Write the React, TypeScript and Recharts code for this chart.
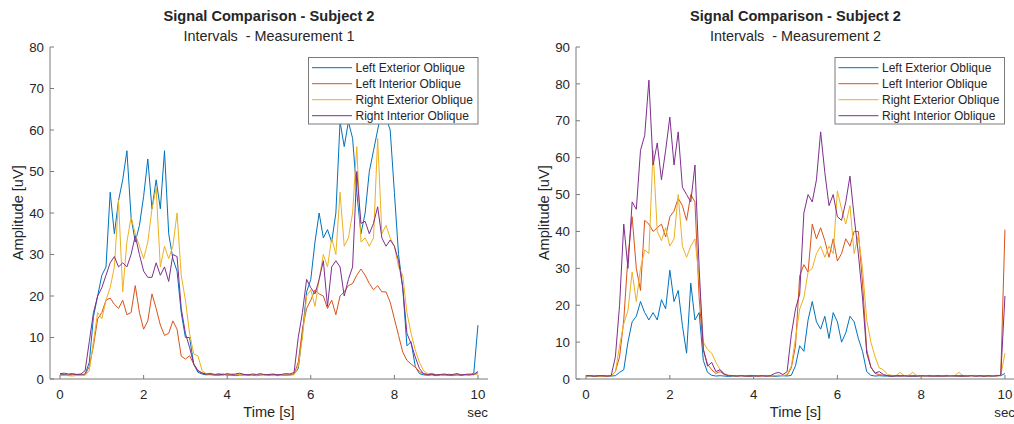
import React from 'react';
import { LineChart, Line, XAxis, YAxis } from 'recharts';

// Sample times [s]
const TIME = [
  0.0, 0.1, 0.2, 0.3, 0.4, 0.5, 0.6, 0.7, 0.8, 0.9,
  1.0, 1.1, 1.2, 1.3, 1.4, 1.5, 1.6, 1.7, 1.8, 1.9,
  2.0, 2.1, 2.2, 2.3, 2.4, 2.5, 2.6, 2.7, 2.8, 2.9,
  3.0, 3.1, 3.2, 3.3, 3.4, 3.5, 3.6, 3.7, 3.8, 3.9,
  4.0, 4.1, 4.2, 4.3, 4.4, 4.5, 4.6, 4.7, 4.8, 4.9,
  5.0, 5.1, 5.2, 5.3, 5.4, 5.5, 5.6, 5.7, 5.8, 5.9,
  6.0, 6.1, 6.2, 6.3, 6.4, 6.5, 6.6, 6.7, 6.8, 6.9,
  7.0, 7.1, 7.2, 7.3, 7.4, 7.5, 7.6, 7.7, 7.8, 7.9,
  8.0, 8.1, 8.2, 8.3, 8.4, 8.5, 8.6, 8.7, 8.8, 8.9,
  9.0, 9.1, 9.2, 9.3, 9.4, 9.5, 9.6, 9.7, 9.8, 9.9,
  10.0,
];

const SERIES_NAMES = ['Left Exterior Oblique', 'Left Interior Oblique', 'Right Exterior Oblique', 'Right Interior Oblique'];
const SERIES_COLORS = ['#0072BD', '#D95319', '#EDB120', '#7E2F8E'];
const X_TICKS = [0, 2, 4, 6, 8, 10];
const Y_TICKS_1 = [0, 10, 20, 30, 40, 50, 60, 70, 80];
const Y_TICKS_2 = [0, 10, 20, 30, 40, 50, 60, 70, 80, 90];

// Measurement 1
const M1_LEO = [
  1.0, 1.1, 0.9, 1.0, 1.1, 1.0, 1.2, 4, 15, 20,
  25, 27, 45, 35, 43, 48, 55, 39, 33, 37,
  44, 53, 41, 48, 41, 55, 35, 29, 26, 16,
  10, 10, 3.5, 1.6, 1.2, 1.0, 1.1, 0.9, 1.0, 1.2,
  0.9, 1.0, 0.8, 1.0, 1.1, 0.9, 1.0, 0.8, 1.0, 1.1,
  0.9, 1.0, 0.8, 1.0, 0.9, 1.0, 1.2, 2.5, 11, 21,
  24, 33, 40, 34, 36, 33, 40, 62, 56, 62,
  58, 45, 35, 40, 50, 55, 60, 65, 63, 60,
  45, 30, 22, 8, 9, 3, 1.3, 1.0, 0.9, 1.0,
  0.8, 1.0, 0.9, 1.0, 0.8, 1.0, 0.9, 1.0, 0.9, 1.4,
  13,
];
const M1_LIO = [
  1.0, 0.9, 1.0, 1.1, 0.9, 1.0, 1.0, 3, 8, 14.5,
  16, 19, 19.5, 18, 17, 19, 15.5, 16, 22.5, 16,
  12, 14, 20.5, 17, 13, 10.5, 11, 14, 12, 5.5,
  4.8, 5.6, 3.6, 2, 1.5, 1.2, 1.0, 1.1, 0.9, 1.0,
  1.1, 0.9, 1.0, 1.0, 0.9, 1.1, 1.0, 0.9, 1.0, 1.1,
  0.9, 1.0, 1.1, 0.9, 1.0, 1.0, 1.2, 4, 12, 17,
  19, 21.5, 20.5, 20, 17, 19, 15.5, 20, 21, 22.5,
  23, 25, 26.5, 25, 23, 21.5, 22.5, 21, 21, 18.5,
  14.5, 10.5, 6.5, 4.5, 3.6, 2.8, 1.8, 1.2, 1.0, 1.1,
  0.9, 1.0, 1.1, 0.9, 1.0, 1.0, 0.9, 1.1, 1.0, 1.1,
  1.5,
];
const M1_REO = [
  0.8, 0.9, 0.8, 0.7, 0.9, 0.8, 0.9, 2, 9, 16,
  14.5, 19, 22, 27, 43, 21, 33, 39, 35, 32,
  29, 33, 41, 46, 27, 32, 29, 32, 40, 25,
  19, 11, 6, 5.6, 2, 1.2, 1.4, 1.0, 1.3, 1.1,
  0.9, 1.2, 1.0, 1.1, 0.9, 1.0, 1.1, 0.9, 1.0, 0.9,
  1.0, 0.8, 1.0, 0.9, 1.0, 0.9, 1.0, 3, 10, 20,
  21.5, 17.5, 24, 30, 27, 34, 30, 45, 32, 34,
  40, 56, 33, 34, 32, 34, 58, 35, 37, 34,
  32, 27, 25, 16, 11, 7, 4, 2, 1.2, 1.4,
  1.0, 1.1, 0.9, 1.2, 1.0, 0.9, 1.1, 1.0, 0.9, 1.0,
  1.2,
];
const M1_RIO = [
  1.3, 1.4, 1.2, 1.3, 1.1, 1.2, 2, 9, 16, 20,
  22, 25, 28, 29.5, 27, 28, 27, 30, 34.5, 30,
  26, 24.5, 24.5, 28, 25, 27, 23.5, 30, 29.5, 17,
  11, 7.6, 3.6, 2, 1.4, 1.2, 1.3, 1.1, 1.2, 1.0,
  1.3, 1.1, 1.2, 1.4, 1.1, 1.0, 1.2, 1.1, 1.3, 1.0,
  1.1, 1.2, 1.0, 1.1, 1.3, 1.2, 1.6, 10, 16, 24,
  22, 20.5, 24, 28.5, 17.5, 27, 28.5, 27, 20, 24,
  27, 50, 37.5, 38, 35, 37.5, 41.5, 34, 32, 33.5,
  32, 28.5, 22, 11, 8.5, 5.3, 2.5, 1.3, 1.1, 1.2,
  1.0, 1.1, 1.2, 1.0, 1.1, 1.3, 1.0, 1.1, 1.2, 1.1,
  1.8,
];

// Measurement 2
const M2_LEO = [
  0.8, 0.8, 0.7, 0.8, 0.9, 0.8, 0.8, 0.9, 1.8, 2.5,
  10, 15.5, 17, 21, 18, 16, 18, 16, 21.5, 19,
  29.5, 21, 24, 14.5, 7, 26, 16, 18, 5, 1.8,
  1.0, 0.8, 0.9, 0.8, 0.7, 0.8, 0.8, 0.9, 0.8, 0.7,
  0.8, 0.8, 0.9, 0.8, 0.8, 0.7, 0.8, 0.9, 0.8, 1.0,
  3.6, 9, 7.5, 16, 21, 15.5, 13.5, 17, 11, 18,
  15.5, 10, 12.5, 17, 15.5, 11, 7.5, 2, 1.0, 0.8,
  0.9, 0.8, 0.8, 0.7, 0.8, 0.9, 0.8, 0.8, 0.7, 0.8,
  0.8, 0.9, 0.8, 0.8, 0.7, 0.8, 0.8, 0.9, 0.8, 0.8,
  0.7, 0.8, 0.9, 0.8, 0.8, 0.7, 0.8, 0.8, 0.9, 0.9,
  1.5,
];
const M2_LIO = [
  0.8, 0.9, 0.8, 0.8, 0.7, 0.8, 0.9, 2, 6, 16,
  33, 44, 30, 24, 43, 42, 40, 41, 42, 38.5,
  44, 45.5, 49, 47, 43, 50, 48, 22, 8, 4,
  2.5, 1.5, 2, 1.2, 1.0, 0.9, 0.8, 0.9, 0.8, 0.8,
  0.9, 0.8, 0.8, 0.9, 0.8, 0.9, 1.0, 0.9, 1.0, 3,
  9, 28, 31, 29, 42, 38, 41, 37.5, 33, 38,
  32, 34, 38, 36, 40, 40, 26, 8, 3.2, 1.5,
  1.2, 1.0, 0.9, 0.8, 0.9, 0.8, 0.9, 0.8, 0.8, 0.9,
  0.8, 0.9, 0.8, 0.8, 0.9, 0.8, 0.8, 0.9, 0.8, 0.9,
  0.8, 0.8, 0.9, 0.8, 0.9, 0.8, 0.8, 0.9, 0.8, 1.0,
  40.5,
];
const M2_REO = [
  0.8, 0.8, 0.9, 0.8, 0.8, 0.9, 0.8, 2, 9, 15,
  18.5, 29, 21, 30, 35, 34, 62, 40, 37.5, 41,
  36, 38, 50, 36, 33, 36, 38, 27, 10, 8,
  7, 4.5, 2.5, 1.5, 1.0, 0.9, 0.8, 0.9, 0.8, 1.0,
  0.9, 0.8, 0.9, 1.0, 0.8, 0.9, 1.0, 0.9, 1.2, 3.5,
  11, 19, 22, 29, 30, 34, 36, 33, 36, 34,
  51, 46, 42, 47, 34, 39, 30, 16, 10, 6,
  3, 2.5, 1.2, 1.0, 0.9, 1.8, 0.9, 1.0, 1.8, 0.9,
  0.8, 0.9, 1.0, 0.8, 0.9, 0.8, 1.0, 0.9, 0.9, 1.8,
  0.9, 0.8, 0.9, 1.0, 0.8, 0.9, 0.8, 0.9, 1.0, 0.9,
  7,
];
const M2_RIO = [
  0.9, 0.9, 0.8, 0.9, 0.9, 0.8, 0.9, 6, 20, 42,
  30, 48, 46, 62, 66, 81, 58, 64, 54, 62,
  71, 58, 67, 52, 50, 48, 58, 30, 8, 3.5,
  4.5, 2, 2.5, 1.3, 0.9, 0.9, 0.8, 0.9, 0.8, 0.9,
  0.9, 0.8, 0.9, 0.8, 0.9, 1.5, 1.8, 1.2, 2, 12,
  19, 23, 45, 50, 48, 54, 67, 56, 47, 50,
  44, 43, 48, 55, 44, 34, 22, 7, 3.2, 1.6,
  2, 1.2, 0.9, 0.8, 0.9, 0.8, 0.9, 0.8, 0.9, 0.8,
  0.9, 0.8, 0.9, 0.8, 0.9, 0.8, 0.9, 0.8, 0.9, 0.8,
  0.9, 0.8, 0.9, 0.8, 0.9, 0.8, 0.9, 0.8, 0.9, 1.0,
  22.5,
];

const KEYS = ['leo', 'lio', 'reo', 'rio'];

function buildRows(time: number[], s: number[][]) {
  return time.map((t, i) => ({ t, leo: s[0][i], lio: s[1][i], reo: s[2][i], rio: s[3][i] }));
}

const DATA_1 = buildRows(TIME, [M1_LEO, M1_LIO, M1_REO, M1_RIO]);
const DATA_2 = buildRows(TIME, [M2_LEO, M2_LIO, M2_REO, M2_RIO]);

const FONT = '"Liberation Sans", Arial, Helvetica, sans-serif';
const TEXT_COLOR = '#262626';
const AXIS_COLOR = '#7a7a7a';
const TICK_LEN = 4;

const BottomTick = (props: any) => {
  const { x, y, payload } = props;
  return (
    <g>
      <line x1={x} x2={x} y1={y} y2={y - TICK_LEN} stroke={AXIS_COLOR} strokeWidth={1} />
      <text x={x} y={y + 20} textAnchor="middle" fill={TEXT_COLOR} fontSize={13.3} fontFamily={FONT}>
        {payload.value}
      </text>
    </g>
  );
};
const TopTick = (props: any) => {
  const { x, y } = props;
  return <line x1={x} x2={x} y1={y} y2={y + TICK_LEN} stroke={AXIS_COLOR} strokeWidth={1} />;
};
const LeftTick = (props: any) => {
  const { x, y, payload } = props;
  return (
    <g>
      <line x1={x} x2={x + TICK_LEN} y1={y} y2={y} stroke={AXIS_COLOR} strokeWidth={1} />
      <text x={x - 6} y={y + 4.7} textAnchor="end" fill={TEXT_COLOR} fontSize={13.3} fontFamily={FONT}>
        {payload.value}
      </text>
    </g>
  );
};
const RightTick = (props: any) => {
  const { x, y } = props;
  return <line x1={x} x2={x - TICK_LEN} y1={y} y2={y} stroke={AXIS_COLOR} strokeWidth={1} />;
};

type PanelProps = {
  data: any[];
  yMax: number;
  yTicks: number[];
  width: number;
  left: number;
  yAxisWidth: number;
  rightMargin: number;
};

function Panel({ data, yMax, yTicks, width, left, yAxisWidth, rightMargin }: PanelProps) {
  return (
    <div style={{ position: 'absolute', left, top: 0 }}>
      <LineChart
        width={width}
        height={424}
        data={data}
        margin={{ top: 47, right: rightMargin, bottom: 0, left: 0 }}
      >
        <XAxis
          xAxisId="b"
          dataKey="t"
          type="number"
          domain={[-0.24, 10.24]}
          ticks={X_TICKS}
          allowDataOverflow
          orientation="bottom"
          height={45}
          tickSize={0}
          tickMargin={0}
          tickLine={false}
          axisLine={{ stroke: AXIS_COLOR }}
          tick={<BottomTick />}
          interval={0}
        />
        <XAxis
          xAxisId="t"
          dataKey="t"
          type="number"
          domain={[-0.24, 10.24]}
          ticks={X_TICKS}
          allowDataOverflow
          orientation="top"
          height={0}
          tickSize={0}
          tickMargin={0}
          tickLine={false}
          axisLine={{ stroke: AXIS_COLOR }}
          tick={<TopTick />}
          interval={0}
        />
        <YAxis
          yAxisId="l"
          type="number"
          domain={[0, yMax]}
          ticks={yTicks}
          allowDataOverflow
          orientation="left"
          width={yAxisWidth}
          tickSize={0}
          tickMargin={0}
          tickLine={false}
          axisLine={{ stroke: AXIS_COLOR }}
          tick={<LeftTick />}
          interval={0}
        />
        <YAxis
          yAxisId="r"
          type="number"
          domain={[0, yMax]}
          ticks={yTicks}
          allowDataOverflow
          orientation="right"
          width={0}
          tickSize={0}
          tickMargin={0}
          tickLine={false}
          axisLine={{ stroke: AXIS_COLOR }}
          tick={<RightTick />}
          interval={0}
        />
        {KEYS.map((k, i) => (
          <Line
            key={k}
            xAxisId="b"
            yAxisId="l"
            type="linear"
            dataKey={k}
            name={SERIES_NAMES[i]}
            stroke={SERIES_COLORS[i]}
            strokeWidth={1}
            dot={false}
            activeDot={false}
            isAnimationActive={false}
          />
        ))}
      </LineChart>
    </div>
  );
}

type OverlayProps = {
  cx: number;
  subtitle: string;
  yLabelX: number;
  plotRight: number;
  legendX: number;
};

function Overlay({ cx, subtitle, yLabelX, plotRight, legendX }: OverlayProps) {
  return (
    <g fontFamily={FONT} fill={TEXT_COLOR}>
      <text x={cx} y={21} textAnchor="middle" fontSize={14.6} fontWeight="bold">
        Signal Comparison - Subject 2
      </text>
      <text x={cx} y={41} textAnchor="middle" fontSize={14.4} style={{ whiteSpace: 'pre' }}>
        {subtitle}
      </text>
      <text x={cx} y={417} textAnchor="middle" fontSize={14.6}>
        Time [s]
      </text>
      <text x={plotRight} y={417} textAnchor="end" fontSize={13.3}>
        sec
      </text>
      <text
        x={yLabelX}
        y={212.7}
        textAnchor="middle"
        fontSize={14.6}
        transform={`rotate(-90 ${yLabelX} ${212.7})`}
        dy={5}
      >
        Amplitude [uV]
      </text>
      <rect x={legendX + 0.5} y={57.5} width={169.5} height={66.5} fill="#ffffff" stroke={AXIS_COLOR} strokeWidth={1} />
      {SERIES_NAMES.map((n, i) => (
        <g key={n}>
          <line
            x1={legendX + 4}
            x2={legendX + 44}
            y1={67.7 + i * 16}
            y2={67.7 + i * 16}
            stroke={SERIES_COLORS[i]}
            strokeWidth={1}
          />
          <text x={legendX + 47.5} y={67.7 + i * 16 + 4.3} fontSize={12} fill={TEXT_COLOR}>
            {n}
          </text>
        </g>
      ))}
    </g>
  );
}

export default function App() {
  return (
    <div
      style={{
        position: 'absolute',
        left: 0,
        top: 0,
        width: 1014,
        height: 424,
        overflow: 'hidden',
        background: '#ffffff',
      }}
    >
      <Panel data={DATA_1} yMax={80} yTicks={Y_TICKS_1} width={507} left={0} yAxisWidth={50} rightMargin={19} />
      <Panel data={DATA_2} yMax={90} yTicks={Y_TICKS_2} width={516} left={507} yAxisWidth={69} rightMargin={8} />
      <svg
        width={1014}
        height={424}
        style={{ position: 'absolute', left: 0, top: 0, pointerEvents: 'none' }}
      >
        <Overlay cx={269} subtitle="Intervals  - Measurement 1" yLabelX={18} plotRight={488} legendX={308} />
        <Overlay cx={795.5} subtitle="Intervals  - Measurement 2" yLabelX={544} plotRight={1015} legendX={834.5} />
      </svg>
    </div>
  );
}
